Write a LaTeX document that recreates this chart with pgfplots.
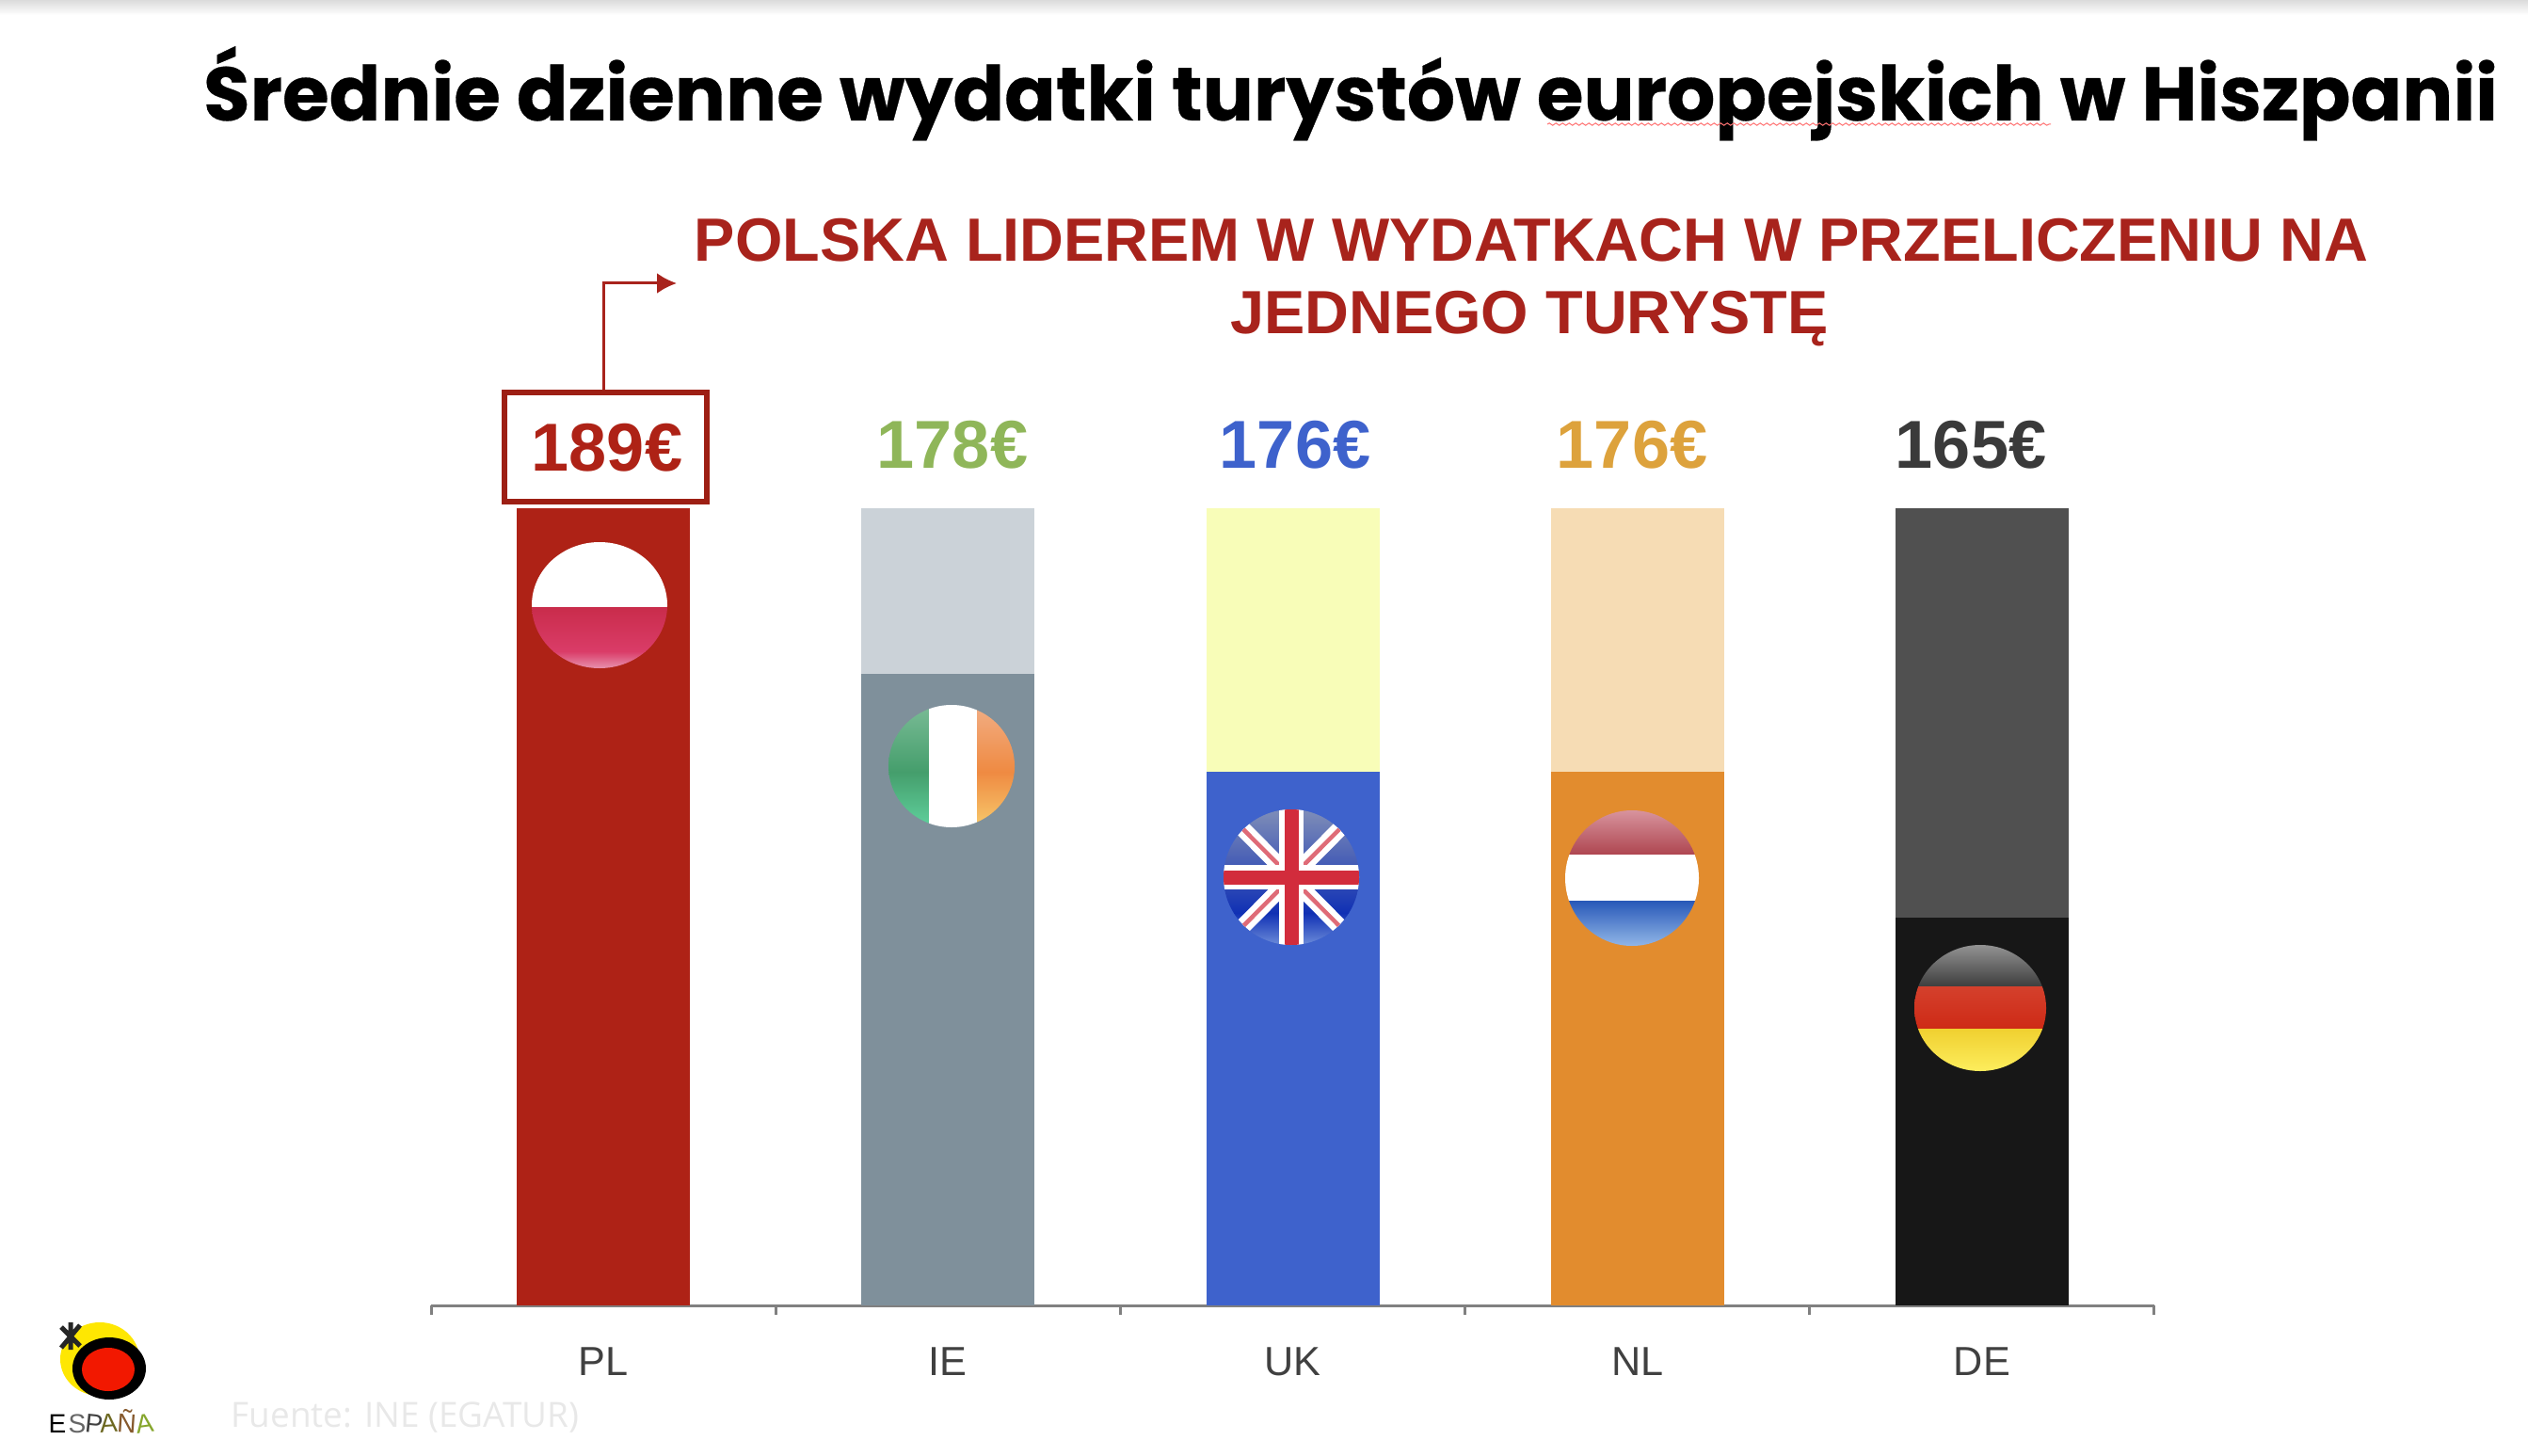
\documentclass[border=0pt]{standalone}
\usepackage{fontspec}
\setmainfont{Liberation Sans}
\newfontfamily\titlefont{Poppins}[BoldFeatures={FakeBold=0.35}]
\newfontfamily\srcfont{Open Sans}
\usepackage{pgfplots}
\pgfplotsset{compat=1.18}
\usetikzlibrary{decorations.pathmorphing,arrows.meta}

\definecolor{plred}{HTML}{AE2216}
\definecolor{headred}{HTML}{A8231C}
\definecolor{ieDark}{HTML}{7F909B}
\definecolor{iePale}{HTML}{CBD2D8}
\definecolor{ieText}{HTML}{8FB659}
\definecolor{ukDark}{HTML}{3E62CC}
\definecolor{ukPale}{HTML}{F8FDB8}
\definecolor{nlDark}{HTML}{E28C2E}
\definecolor{nlPale}{HTML}{F6DCB4}
\definecolor{nlText}{HTML}{DDA23C}
\definecolor{deDark}{HTML}{171717}
\definecolor{dePale}{HTML}{505050}
\definecolor{deText}{HTML}{3A3A3A}
% flag colours
\definecolor{fA}{HTML}{C92C4B}
\definecolor{fB}{HTML}{DA3C68}
\definecolor{fC}{HTML}{EBA8C0}
\definecolor{gA}{HTML}{7DBD98}
\definecolor{gB}{HTML}{459E6C}
\definecolor{gC}{HTML}{62D6A2}
\definecolor{oA}{HTML}{F2B088}
\definecolor{oB}{HTML}{EF8A42}
\definecolor{oC}{HTML}{F8D070}
\definecolor{uA}{HTML}{8492B8}
\definecolor{uB}{HTML}{1030B4}
\definecolor{uC}{HTML}{7C9CE0}
\definecolor{uR}{HTML}{D22C3C}
\definecolor{nA}{HTML}{DA98A2}
\definecolor{nB}{HTML}{AE4650}
\definecolor{nC}{HTML}{2858B8}
\definecolor{nD}{HTML}{9CC0EC}
\definecolor{dA}{HTML}{9A9A9A}
\definecolor{dB}{HTML}{3E3E3E}
\definecolor{dC}{HTML}{D4402C}
\definecolor{dD}{HTML}{CE2A16}
\definecolor{dE}{HTML}{F0D030}
\definecolor{dF}{HTML}{FFF264}

% flag: centre x, centre y, rx, ry, then the drawing inside the clip
\newcommand{\flag}[5]{%
  \begin{scope}
    \clip (#1,#2) ellipse [x radius=#3, y radius=#4];
    #5
  \end{scope}}

\begin{document}
\begin{tikzpicture}
\path[use as bounding box] (0,0) rectangle (26.86cm,15.46cm);

% bar heights as drawn: they are not to scale with the labels
\begin{axis}[
    at={(4.58cm,1.59cm)}, anchor=south west,
    scale only axis, width=18.31cm, height=8.47cm,
    xmin=-0.5, xmax=4.5, ymin=0, ymax=847,
    axis y line=none, axis x line=bottom,
    x axis line style={-, draw=black!50, line width=0.3mm},
    xtick={0,1,2,3,4},
    xticklabels={PL,IE,UK,NL,DE},
    major x tick style={draw=none},
    minor xtick={-0.5,0.5,1.5,2.5,3.5,4.5},
    minor x tick style={draw=black!50, line width=0.3mm},
    minor tick length=1mm, tick align=outside,
    x tick label style={font=\fontsize{12.3pt}{14pt}\selectfont, text=black!75, yshift=-1.7mm},
    ybar, bar width=1.84cm, bar shift=0pt,
    clip=false,
  ]
\addplot[fill=plred, draw=none] coordinates {(0,847)};
\addplot[fill=iePale, draw=none] coordinates {(1,847)};
\addplot[fill=ieDark, draw=none] coordinates {(1,671)};
\addplot[fill=ukPale, draw=none] coordinates {(2,847)};
\addplot[fill=ukDark, draw=none] coordinates {(2,567)};
\addplot[fill=nlPale, draw=none] coordinates {(3,847)};
\addplot[fill=nlDark, draw=none] coordinates {(3,567)};
\addplot[fill=dePale, draw=none] coordinates {(4,847)};
\addplot[fill=deDark, draw=none] coordinates {(4,412)};
\end{axis}

% everything else in reference pixels, y downwards
\begin{scope}[shift={(0,15.46cm)}, x=0.1mm, y=-0.1mm]
\shade[top color=black!14, bottom color=white] (0,0) rectangle (2686,16);

\node[anchor=base, font=\titlefont\bfseries\fontsize{22.9pt}{28pt}\selectfont] at (1435,128)
  {Średnie dzienne wydatki turystów europejskich w Hiszpanii};
\draw[red!55!white, line width=0.1mm, decorate, decoration={snake, amplitude=0.12mm, segment length=0.7mm}]
  (1644,132) -- (2179,132);

\node[anchor=base, font=\bfseries\fontsize{18.45pt}{22pt}\selectfont, text=headred] at (1627,278)
  {POLSKA LIDEREM W WYDATKACH W PRZELICZENIU NA};
\node[anchor=base, font=\bfseries\fontsize{18.45pt}{22pt}\selectfont, text=headred] at (1625,355)
  {JEDNEGO TURYSTĘ};

\draw[headred, line width=0.3mm, -{Latex[length=2.1mm,width=2.2mm]}]
  (641,415) -- (641,301) -- (719,301);
\draw[plred!90!black, line width=0.55mm, fill=white] (536,417) rectangle (751,533);

\foreach \x/\t/\c/\y in {645/189€/plred/500, 1012/178€/ieText/497, 1376/176€/ukDark/497, 1734/176€/nlText/497, 2094/165€/deText/497}
  \node[anchor=base, font=\bfseries\fontsize{20.5pt}{24pt}\selectfont, text=\c] at (\x,\y) {\t};

% flags
\flag{637}{643}{72}{67}{
  \fill[white] (560,570) rectangle (715,645);
  \shade[top color=fA, bottom color=fB] (560,645) rectangle (715,692);
  \shade[top color=fB, bottom color=fC] (560,692) rectangle (715,715);
}
\flag{1011}{814}{67}{65}{
  \shade[top color=gA, bottom color=gB] (940,745) rectangle (987,820);
  \shade[top color=gB, bottom color=gC] (940,820) rectangle (987,885);
  \fill[white] (987,745) rectangle (1038,885);
  \shade[top color=oA, bottom color=oB] (1038,745) rectangle (1085,820);
  \shade[top color=oB, bottom color=oC] (1038,820) rectangle (1085,885);
}
\flag{1372}{932}{72}{72}{
  \shade[top color=uA, bottom color=uB] (1295,855) rectangle (1450,970);
  \shade[top color=uB, bottom color=uC] (1295,970) rectangle (1450,1010);
  \draw[white, line width=1.7mm] (1300,860) -- (1444,1005) (1444,860) -- (1300,1005);
  \draw[uR!70!white, line width=0.45mm] (1300,860) -- (1444,1005) (1444,860) -- (1300,1005);
  \draw[white, line width=2.6mm] (1372,855) -- (1372,1010) (1295,932) -- (1450,932);
  \draw[uR, line width=1.5mm] (1372,855) -- (1372,1010) (1295,932) -- (1450,932);
}
\flag{1734}{933}{71}{72}{
  \shade[top color=nA, bottom color=nB] (1660,858) rectangle (1810,908);
  \fill[white] (1660,908) rectangle (1810,957);
  \shade[top color=nC, bottom color=nD] (1660,957) rectangle (1810,1010);
}
\flag{2104}{1071}{70}{67}{
  \shade[top color=dA, bottom color=dB] (2030,1000) rectangle (2180,1048);
  \shade[top color=dC, bottom color=dD] (2030,1048) rectangle (2180,1093);
  \shade[top color=dE, bottom color=dF] (2030,1093) rectangle (2180,1145);
}

% logo
\fill[yellow!90!orange] (106,1444) ellipse [x radius=42, y radius=39];
\fill[black] (116,1454) ellipse [x radius=39, y radius=33];
\fill[red!80!orange!95!black] (115,1455) ellipse [x radius=28, y radius=23];
\draw[black!85, line width=0.5mm] (65,1410) -- (85,1430) (85,1408) -- (65,1432) (75,1405) -- (75,1434);
\foreach \x/\t/\c/\r in {61/E/black/0, 82/S/black!60/0, 99/P/black!75/-6, 116/A/olive!70!black/4, 134/Ñ/brown!70!black/-4, 155/A/green!30!brown/8}
  \node[anchor=base, font=\fontsize{8pt}{10pt}\selectfont, text=\c, rotate=\r, inner sep=0pt] at (\x,1522) {\t};

\node[anchor=base west, inner sep=0pt, font=\srcfont\fontsize{10.5pt}{13pt}\selectfont, text=black!9] at (245,1516)
  {Fuente: INE (EGATUR)};
\end{scope}
\end{tikzpicture}
\end{document}
